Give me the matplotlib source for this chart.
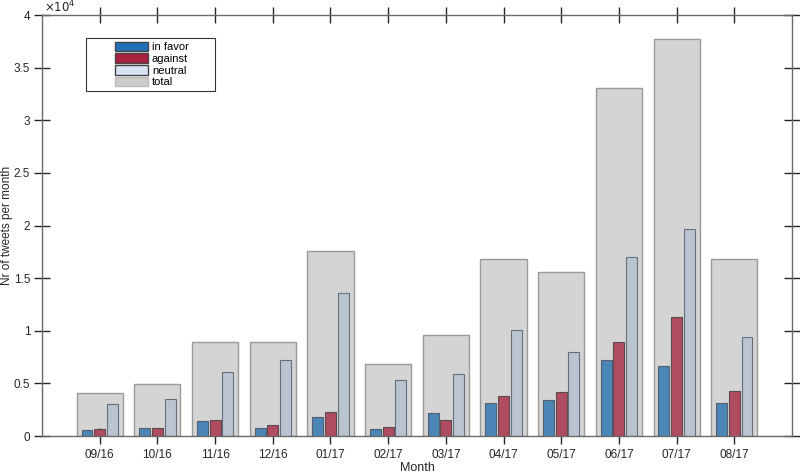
import numpy as np
import matplotlib
matplotlib.use('Agg')
import matplotlib.pyplot as plt
from matplotlib.patches import Patch, Rectangle
from matplotlib.ticker import FuncFormatter

months = ['09/16', '10/16', '11/16', '12/16', '01/17', '02/17',
          '03/17', '04/17', '05/17', '06/17', '07/17', '08/17']
in_favor = [540, 730, 1400, 790, 1780, 665, 2215, 3100, 3390, 7220, 6650, 3100]
against = [665, 720, 1490, 1045, 2250, 880, 1550, 3800, 4180, 8960, 11340, 4300]
neutral = [3010, 3490, 6110, 7220, 13560, 5320, 5890, 10070, 7980, 16980, 19700, 9440]
total = [4100, 4900, 8960, 8960, 17580, 6840, 9600, 16800, 15600, 33100, 37700, 16850]

plt.rcParams['font.family'] = ['Liberation Sans', 'DejaVu Sans']
fig = plt.figure(figsize=(8, 4.75), dpi=100)
ax = fig.add_axes([0.0525, 0.0821, 0.9375, 0.8863])

x = np.arange(1, len(months) + 1)
w = 0.19
ax.bar(x, total, 0.8, color='#d4d4d4', edgecolor='#9a9a9a', linewidth=1, zorder=1)
ax.bar(x - 0.22, in_favor, w, color='#4a86b6', edgecolor='#555f6e', linewidth=0.8, zorder=2)
ax.bar(x, against, w, color='#b04c5f', edgecolor='#5e4a52', linewidth=0.8, zorder=2)
ax.bar(x + 0.22, neutral, w, color='#bac4d1', edgecolor='#66707c', linewidth=0.8, zorder=2)

ax.set_xlim(0, 13)
ax.set_ylim(0, 40000)
ax.set_xticks(x)
ax.set_xticklabels(months)
ax.set_yticks(np.arange(0, 40001, 5000))
ax.yaxis.set_major_formatter(FuncFormatter(lambda v, p: '%g' % (v / 1e4)))
ax.tick_params(direction='inout', length=11, width=1, colors='#262626',
               labelsize=8.5, top=True, right=True)
ax.tick_params(axis='x', pad=4)
ax.tick_params(axis='y', pad=3)
for s in ax.spines.values():
    s.set_color('#6a6a6a')
    s.set_linewidth(1)

ax.text(0.002, 1.0, r'$\times10^4$', transform=ax.transAxes, fontsize=8.5,
        color='#262626', ha='left', va='bottom')
ax.set_ylabel('Nr of tweets per month', fontsize=8.5, color='#262626')
ax.yaxis.set_label_coords(-0.0385, 0.5)
ax.set_xlabel('Month', fontsize=9, color='#262626', va='top')
ax.xaxis.set_label_coords(0.5, -0.061)

# legend frame drawn separately so it can be wider than its contents
ax.add_patch(Rectangle((0.0587, 0.8195), 0.172, 0.126, transform=ax.transAxes,
                       facecolor='white', edgecolor='#333333', linewidth=0.8, zorder=5))
handles = [Patch(facecolor='#1f70b6', edgecolor='#444444', label='in favor'),
           Patch(facecolor='#a8203c', edgecolor='#444444', label='against'),
           Patch(facecolor='#d6e4f3', edgecolor='#444444', label='neutral'),
           Patch(facecolor='#cccccc', edgecolor='#bbbbbb', label='total')]
leg = ax.legend(handles=handles, loc='upper left', bbox_to_anchor=(0.097, 0.937),
                fontsize=8, frameon=False, handlelength=3.0,
                handleheight=0.95, labelspacing=0.1, borderpad=0,
                handletextpad=0.35, borderaxespad=0)
leg.set_zorder(6)

plt.savefig('out.png', dpi=100)
